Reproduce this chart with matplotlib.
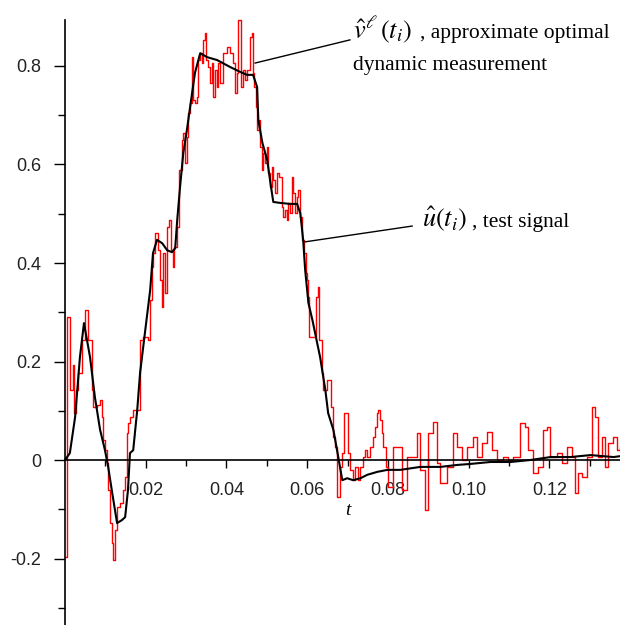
import numpy as np
import matplotlib.pyplot as plt
from matplotlib.ticker import FixedLocator

# test signal u(t_i) (black)
t_u = [0.0, 0.0012, 0.0025, 0.0037, 0.0047, 0.0062, 0.0074, 0.0087, 0.0099, 0.0107,
       0.0117, 0.0129, 0.0141, 0.0149, 0.0156, 0.0161, 0.0169, 0.0179, 0.0186, 0.0198,
       0.0211, 0.0218, 0.0228, 0.0241, 0.0253, 0.0265, 0.0273, 0.0278, 0.0285, 0.0293,
       0.0302, 0.0310, 0.0322, 0.0335, 0.0352, 0.0377, 0.0409, 0.0434, 0.0451, 0.0466,
       0.0476, 0.0479, 0.0489, 0.0501, 0.0508, 0.0516, 0.0533, 0.0558, 0.0575, 0.0583,
       0.0590, 0.0595, 0.0603, 0.0613, 0.0632, 0.0645, 0.0652, 0.0665, 0.0677, 0.0687,
       0.0699, 0.0714, 0.0732, 0.0749, 0.0774, 0.0799, 0.0831, 0.0880, 0.0930, 0.0972,
       0.1004, 0.1054, 0.1104, 0.1153, 0.1203, 0.1252, 0.1302, 0.1359, 0.1377]
u = [0.0, 0.014, 0.087, 0.209, 0.278, 0.209, 0.128, 0.061, 0.020, -0.014,
     -0.067, -0.128, -0.122, -0.116, -0.061, 0.014, 0.020, 0.102, 0.177, 0.258,
     0.345, 0.420, 0.447, 0.440, 0.426, 0.422, 0.430, 0.487, 0.554, 0.623,
     0.670, 0.717, 0.786, 0.826, 0.818, 0.812, 0.798, 0.788, 0.782, 0.782,
     0.757, 0.690, 0.644, 0.609, 0.568, 0.524, 0.522, 0.520, 0.520, 0.501,
     0.447, 0.386, 0.319, 0.284, 0.209, 0.142, 0.095, 0.061, 0.006, -0.041,
     -0.037, -0.041, -0.037, -0.030, -0.024, -0.020, -0.020, -0.014, -0.014, -0.010,
     -0.008, -0.004, -0.004, 0.0, 0.006, 0.006, 0.010, 0.006, 0.008]

# approximate optimal dynamic measurement v^l(t_i) (red, stepped)
t_v = [0.0000, 0.0005, 0.0012, 0.0020, 0.0022, 0.0027, 0.0032, 0.0042, 0.0050, 0.0057,
       0.0067, 0.0069, 0.0079, 0.0087, 0.0092, 0.0094, 0.0099, 0.0104, 0.0107, 0.0112,
       0.0116, 0.0119, 0.0124, 0.0129, 0.0136, 0.0144, 0.0149, 0.0154, 0.0156, 0.0161,
       0.0169, 0.0178, 0.0186, 0.0193, 0.0206, 0.0211, 0.0216, 0.0218, 0.0223, 0.0230,
       0.0235, 0.0240, 0.0243, 0.0248, 0.0253, 0.0258, 0.0263, 0.0268, 0.0270, 0.0278,
       0.0282, 0.0290, 0.0292, 0.0297, 0.0302, 0.0305, 0.0310, 0.0315, 0.0317, 0.0322,
       0.0327, 0.0330, 0.0335, 0.0339, 0.0342, 0.0347, 0.0349, 0.0354, 0.0359, 0.0364,
       0.0367, 0.0372, 0.0377, 0.0379, 0.0384, 0.0392, 0.0401, 0.0409, 0.0416, 0.0421,
       0.0426, 0.0429, 0.0436, 0.0441, 0.0446, 0.0451, 0.0458, 0.0463, 0.0466, 0.0468,
       0.0473, 0.0476, 0.0481, 0.0483, 0.0488, 0.0491, 0.0496, 0.0501, 0.0503, 0.0508,
       0.0513, 0.0515, 0.0520, 0.0525, 0.0530, 0.0538, 0.0540, 0.0545, 0.0550, 0.0553,
       0.0558, 0.0563, 0.0565, 0.0570, 0.0575, 0.0577, 0.0582, 0.0587, 0.0592, 0.0597,
       0.0600, 0.0602, 0.0605, 0.0615, 0.0622, 0.0627, 0.0629, 0.0637, 0.0639, 0.0649,
       0.0654, 0.0659, 0.0664, 0.0669, 0.0674, 0.0681, 0.0686, 0.0691, 0.0699, 0.0701,
       0.0706, 0.0714, 0.0719, 0.0726, 0.0731, 0.0738, 0.0743, 0.0748, 0.0756, 0.0763,
       0.0768, 0.0773, 0.0776, 0.0781, 0.0786, 0.0788, 0.0795, 0.0800, 0.0813, 0.0825,
       0.0835, 0.0847, 0.0860, 0.0872, 0.0880, 0.0892, 0.0900, 0.0912, 0.0922, 0.0929,
       0.0947, 0.0961, 0.0971, 0.0984, 0.0996, 0.1011, 0.1021, 0.1033, 0.1046, 0.1058,
       0.1070, 0.1085, 0.1098, 0.1110, 0.1127, 0.1140, 0.1147, 0.1160, 0.1172, 0.1184,
       0.1194, 0.1202, 0.1219, 0.1232, 0.1244, 0.1256, 0.1264, 0.1271, 0.1281, 0.1294,
       0.1306, 0.1313, 0.1321, 0.1331, 0.1338, 0.1346, 0.1358, 0.1368, 0.1375]
v = [-0.197, 0.290, 0.142, 0.193, 0.095, 0.142, 0.177, 0.244, 0.305, 0.244,
     0.142, 0.108, 0.112, 0.122, 0.087, 0.041, 0.020, -0.006, -0.061, -0.128,
     -0.168, -0.203, -0.142, -0.095, -0.087, -0.061, -0.035, 0.055, 0.075, 0.087,
     0.102, 0.102, 0.244, 0.250, 0.244, 0.325, 0.392, 0.420, 0.461, 0.426,
     0.365, 0.311, 0.420, 0.339, 0.473, 0.487, 0.426, 0.392, 0.432, 0.473,
     0.589, 0.650, 0.664, 0.603, 0.656, 0.704, 0.725, 0.818, 0.731, 0.725,
     0.737, 0.812, 0.826, 0.806, 0.853, 0.867, 0.812, 0.798, 0.765, 0.806,
     0.737, 0.792, 0.757, 0.806, 0.765, 0.826, 0.838, 0.826, 0.806, 0.745,
     0.786, 0.893, 0.757, 0.792, 0.771, 0.792, 0.859, 0.867, 0.786, 0.757,
     0.717, 0.670, 0.690, 0.635, 0.589, 0.623, 0.603, 0.635, 0.583, 0.554,
     0.595, 0.568, 0.542, 0.583, 0.574, 0.514, 0.493, 0.508, 0.487, 0.522,
     0.501, 0.574, 0.542, 0.501, 0.534, 0.548, 0.493, 0.447, 0.420, 0.380,
     0.365, 0.331, 0.250, 0.250, 0.331, 0.351, 0.244, 0.177, 0.142, 0.162,
     0.162, 0.108, 0.047, 0.026, -0.075, -0.014, 0.014, 0.095, 0.095, 0.014,
     -0.020, -0.041, -0.014, -0.041, -0.014, 0.006, 0.020, 0.006, 0.026, 0.047,
     0.067, 0.095, 0.102, 0.081, 0.055, 0.026, -0.014, -0.055, 0.026, 0.026,
     -0.061, 0.006, 0.006, 0.055, -0.020, -0.101, 0.055, 0.077, -0.006, -0.047,
     -0.014, 0.055, 0.026, 0.000, 0.026, 0.047, 0.006, 0.035, 0.057, 0.020,
     0.000, 0.006, 0.000, 0.006, 0.075, 0.067, 0.020, -0.026, -0.014, 0.061,
     0.067, 0.006, 0.014, -0.006, 0.026, 0.006, -0.067, -0.026, -0.035, 0.006,
     0.108, 0.087, 0.006, 0.047, -0.014, 0.035, 0.047, 0.020, 0.026]

x_ticks = [0.02, 0.04, 0.06, 0.08, 0.10, 0.12]
x_labels = ["0.02", "0.04", "0.06", "0.08", "0.10", "0.12"]
y_ticks = [-0.2, 0.0, 0.2, 0.4, 0.6, 0.8]
y_labels = ["-0.2", "0", "0.2", "0.4", "0.6", "0.8"]

plt.rcParams['mathtext.fontset'] = 'stix'

fig = plt.figure(figsize=(6.2, 6.25), dpi=100)
ax = fig.add_axes([65 / 620, 0.0, 555 / 620, 1.0])

ax.plot(t_v, v, color='red', lw=1.0, drawstyle='steps-post', zorder=2)
ax.plot(t_u, u, color='black', lw=1.5, zorder=3)

ax.set_xlim(0, 0.1375)
ax.set_ylim(-0.335, 0.934)

for s in ['top', 'right']:
    ax.spines[s].set_visible(False)
ax.spines['bottom'].set_position(('data', 0))
ax.spines['left'].set_position(('data', 0))
ax.spines['left'].set_bounds(-0.335, 0.893)
for s in ['bottom', 'left']:
    ax.spines[s].set_linewidth(1.2)
    ax.spines[s].set_zorder(4)

tick_font = dict(family='Liberation Sans', size=13, color='#222222')
ax.xaxis.set_major_locator(FixedLocator(x_ticks))
ax.set_xticklabels(x_labels, **tick_font)
ax.xaxis.set_minor_locator(FixedLocator([0.01, 0.03, 0.05, 0.07, 0.09, 0.11, 0.13]))
ax.yaxis.set_major_locator(FixedLocator(y_ticks))
ax.set_yticklabels(y_labels, **tick_font)
ax.yaxis.set_minor_locator(FixedLocator([-0.3, -0.1, 0.1, 0.3, 0.5, 0.7]))
ax.tick_params(axis='x', which='major', direction='out', length=6, width=1.0, pad=10)
ax.tick_params(axis='x', which='minor', direction='out', length=4, width=1.0)
ax.tick_params(axis='y', which='major', direction='out', length=8, width=1.0, pad=9)
ax.tick_params(axis='y', which='minor', direction='out', length=5, width=1.0)

ax.text(0.0701, -0.102, "t", fontsize=14, family='Liberation Serif', style='italic',
        ha='center', va='center')

# callouts
serif = dict(family='Liberation Serif', ha='left', va='baseline')
ax.plot([0.0471, 0.0706], [0.806, 0.853], color='black', lw=1.0)
ax.plot([0.0595, 0.0860], [0.443, 0.475], color='black', lw=1.0)
ax.text(0.0714, 0.857, r"$\hat{v}^{\ell}\,(t_{i})$", fontsize=19, **serif)
ax.text(0.0880, 0.857, ", approximate optimal", fontsize=15.5, **serif)
ax.text(0.0714, 0.792, "dynamic measurement", fontsize=15.5, **serif)
ax.text(0.0885, 0.473, r"$\hat{u}(t_{i})$", fontsize=19, **serif)
ax.text(0.1008, 0.473, ", test signal", fontsize=15.5, **serif)

fig.savefig("out.png", dpi=100)
